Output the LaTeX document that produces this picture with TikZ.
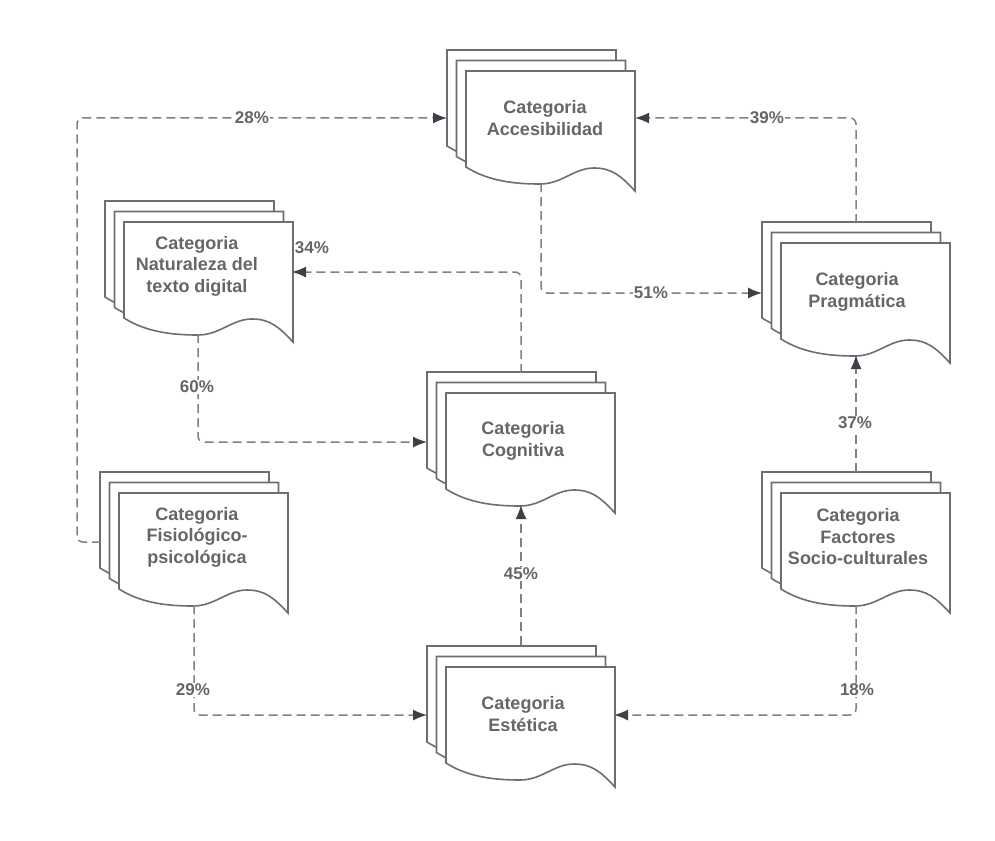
\documentclass[tikz,border=0pt]{standalone}
\usepackage{fontspec}
\setmainfont{Liberation Sans}
\usetikzlibrary{arrows.meta}
\definecolor{shapeline}{HTML}{6E6E6E}
\definecolor{txtgray}{HTML}{666666}
\definecolor{conn}{HTML}{808080}
\definecolor{tipgray}{HTML}{3E4049}
\tikzset{
  sheet/.style={draw=shapeline, line width=1.6pt, fill=white, line join=miter},
  doctext/.style={text=txtgray, font=\fontsize{18}{21.5}\selectfont\bfseries, align=center, inner sep=0pt},
  lbl/.style={text=txtgray, font=\fontsize{17}{20}\selectfont\bfseries, inner sep=0.6pt},
  lblbg/.style={lbl, fill=white},
  conn/.style={draw=conn, line width=1.5pt, dash pattern=on 9pt off 5pt, rounded corners=6pt,
    -{Latex[length=14pt,width=11pt,color=tipgray]}},
}
% one sheet: top-left x, y (y grows downward), width 169, height 120
\newcommand\mysheet[2]{%
  \draw[sheet] ({#1},{#2}) -- ({#1+169},{#2}) -- ({#1+169},{#2+120})
   .. controls ({#1+155},{#2+105}) and ({#1+146},{#2+97}) .. ({#1+128},{#2+97})
   .. controls ({#1+108},{#2+97}) and ({#1+96},{#2+113}) .. ({#1+74},{#2+113})
   .. controls ({#1+48},{#2+113}) and ({#1+22},{#2+110}) .. ({#1},{#2+96}) -- cycle;}
\newcommand\mystack[2]{%
  \mysheet{#1-19}{#2-21}\mysheet{#1-9.5}{#2-10.5}\mysheet{#1}{#2}}
\begin{document}
\begin{tikzpicture}[x=1pt,y=-1pt]
\useasboundingbox (0,0) rectangle (995,840);
\fill[white] (0,0) rectangle (995,840);

% shapes
\mystack{466}{71}
\mystack{124}{222}
\mystack{446}{393}
\mystack{781}{243}
\mystack{446}{667}
\mystack{119}{493}
\mystack{781}{493}

% text nodes
\node[doctext] (acc) at (545,118) {Categoria\\Accesibilidad};
\node[doctext] (nat) at (197,266) {Categoria\\Naturaleza del\\texto digital};
\node[doctext] (cog) at (523,441) {Categoria\\Cognitiva};
\node[doctext] (prag) at (857,292) {Categoria\\Pragmática};
\node[doctext] (est) at (523,714) {Categoria\\Estética};
\node[doctext] (fis) at (197,537) {Categoria\\Fisiológico-\\psicológica};
\node[doctext] (fac) at (858,537) {Categoria\\Factores\\Socio-culturales};

% attachment points
\coordinate (acc-w) at (447,118);
\coordinate (acc-e) at (635,118);
\coordinate (acc-s) at (541,183);
\coordinate (nat-e) at (292,272);
\coordinate (nat-s) at (198,334);
\coordinate (cog-w) at (427,442);
\coordinate (cog-n) at (521,373);
\coordinate (cog-s) at (521,505);
\coordinate (prag-w) at (762,293);
\coordinate (prag-n) at (856,223);
\coordinate (prag-s) at (856,355);
\coordinate (est-w) at (427,715);
\coordinate (est-e) at (614,715);
\coordinate (est-n) at (521,645);
\coordinate (fis-w) at (101,542);
\coordinate (fis-s) at (194,605);
\coordinate (fac-n) at (856,472);
\coordinate (fac-s) at (856,605);

% connectors
\draw[conn] (fis-w) -- (77,542) -- (77,118) -- (acc-w);
\draw[conn] (prag-n) -- (856,118) -- (acc-e);
\draw[conn] (acc-s) -- (541,293) -- (prag-w);
\draw[conn] (cog-n) -- (521,272) -- (nat-e);
\draw[conn] (nat-s) -- (198,442) -- (cog-w);
\draw[conn] (est-n) -- (cog-s);
\draw[conn] (fac-n) -- (prag-s);
\draw[conn] (fis-s) -- (194,715) -- (est-w);
\draw[conn] (fac-s) -- (856,715) -- (est-e);

% labels
\node[lblbg] (l28) at (252,118) {28\%};
\node[lblbg] (l39) at (767,118) {39\%};
\node[lblbg] (l51) at (651,293) {51\%};
\node[lbl]   (l34) at (312,248) {34\%};
\node[lblbg] (l60) at (197,387) {60\%};
\node[lblbg] (l45) at (521,574) {45\%};
\node[lblbg] (l37) at (855,423) {37\%};
\node[lblbg] (l29) at (193,690) {29\%};
\node[lblbg] (l18) at (857,690) {18\%};
\end{tikzpicture}
\end{document}
